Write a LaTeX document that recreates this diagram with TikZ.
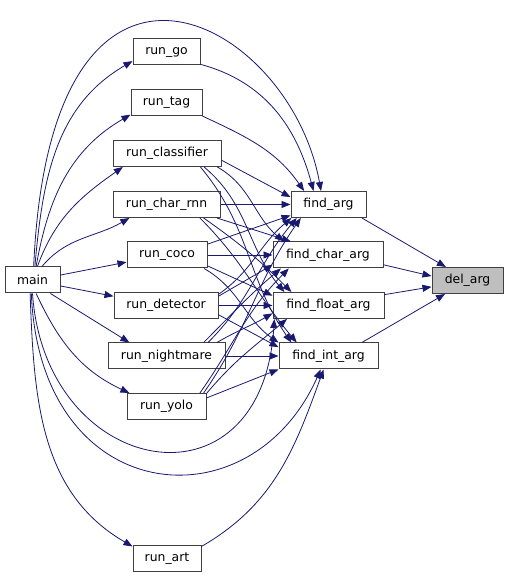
\documentclass[tikz,border=0pt]{standalone}
\usepackage{fontspec}
\setmainfont{DejaVu Sans}
\usetikzlibrary{arrows.meta}
\definecolor{edgeblue}{HTML}{191970}
\definecolor{boxgray}{HTML}{404040}
\definecolor{hilite}{HTML}{BFBFBF}
\tikzset{%
    func/.style={
      rectangle,
      draw=boxgray,
      fill=white,
      line width=1pt,
      minimum height=26pt,
      inner sep=0pt,
      font=\fontsize{12.4}{14}\selectfont
    },
    root func/.style={
      func,
      fill=hilite
    },
    call/.style={
      ->,
      draw=edgeblue,
      line width=0.8pt
    }
  }
\begin{document}
\begin{tikzpicture}[x=1pt, y=1pt, >={Triangle[length=9pt,width=7pt]}]
      \useasboundingbox (0,0) rectangle (508,578);

      \node [func, minimum width=55pt] (main) at (32.5,298) {main};

      \node [func, minimum width=67pt] (rungo) at (166.5,526) {run\_go};
      \node [func, minimum width=71pt] (runtag) at (166.5,475) {run\_tag};
      \node [func, minimum width=108pt] (runclassifier) at (167,424.5) {run\_classifier};
      \node [func, minimum width=107pt] (runcharrnn) at (166.5,373.5) {run\_char\_rnn};
      \node [func, minimum width=80pt] (runcoco) at (167,323) {run\_coco};
      \node [func, minimum width=104pt] (rundetector) at (166,272.5) {run\_detector};
      \node [func, minimum width=117pt] (runnightmare) at (166.5,222) {run\_nightmare};
      \node [func, minimum width=79pt] (runyolo) at (166.5,171.5) {run\_yolo};
      \node [func, minimum width=68pt] (runart) at (167,19) {run\_art};

      \node [func, minimum width=75pt] (findarg) at (328.5,373.5) {find\_arg};
      \node [func, minimum width=110pt] (findchararg) at (328,323) {find\_char\_arg};
      \node [func, minimum width=111pt] (findfloatarg) at (328.5,272.5) {find\_float\_arg};
      \node [func, minimum width=99pt] (findintarg) at (328.5,222) {find\_int\_arg};

      \node [root func, minimum width=71pt] (delarg) at (467.5,297.5) {del\_arg};

      % main
      \draw [call] (main.80) to[out=85,in=210] (rungo.195);
      \draw [call] (main.75) to[out=80,in=210] (runtag.198);
      \draw [call] (main.70) to[out=70,in=215] (runclassifier.197);
      \draw [call] (main.55) to[out=50,in=210] (runcharrnn.200);
      \draw [call] (main.10) -- (runcoco.190);
      \draw [call] (main.-12) -- (rundetector.170);
      \draw [call] (main.-37) -- (runnightmare.160);
      \draw [call] (main.-75) to[out=-65,in=155] (runyolo.160);
      \draw [call] (main.-100) to[out=-88,in=150] (runart.160);
      \draw [call] (main.85) .. controls (50,690) and (290,560) .. (findarg.119);
      \draw [call] (main.-90) .. controls (45,100) and (262,60) .. (findfloatarg.194);
      \draw [call] (main.-95) .. controls (40,70) and (250,50) .. (findintarg.240);

      % find_arg
      \draw [call] (rungo.-20) to[out=-15,in=105] (findarg.138);
      \draw [call] (runtag.-20) to[out=-25,in=125] (findarg.151);
      \draw [call] (runclassifier.-7) -- (findarg.169);
      \draw [call] (runcharrnn.east) -- (findarg.west);
      \draw [call] (runcoco.15) -- (findarg.196);
      \draw [call] (rundetector.12) to[out=35,in=220] (findarg.200);
      \draw [call] (runnightmare.18) to[out=45,in=230] (findarg.203);
      \draw [call] (runyolo.20) to[out=55,in=235] (findarg.206);

      % find_char_arg
      \draw [call] (runclassifier.-15) to[out=-30,in=140] (findchararg.163);
      \draw [call] (runcharrnn.-15) -- (findchararg.160);
      \draw [call] (runcoco.east) -- (findchararg.west);
      \draw [call] (rundetector.10) -- (findchararg.190);
      \draw [call] (runnightmare.20) to[out=45,in=220] (findchararg.196);
      \draw [call] (runyolo.22) to[out=55,in=225] (findchararg.199);

      % find_float_arg
      \draw [call] (runclassifier.-20) to[out=-40,in=130] (findfloatarg.163);
      \draw [call] (runcharrnn.-20) to[out=-35,in=135] (findfloatarg.160);
      \draw [call] (runcoco.-15) -- (findfloatarg.170);
      \draw [call] (rundetector.east) -- (findfloatarg.west);
      \draw [call] (runnightmare.15) to[out=30,in=210] (findfloatarg.188);
      \draw [call] (runyolo.18) to[out=50,in=220] (findfloatarg.198);

      % find_int_arg
      \draw [call] (runclassifier.-22) to[out=-50,in=125] (findintarg.160);
      \draw [call] (runcharrnn.-22) to[out=-45,in=130] (findintarg.157);
      \draw [call] (runcoco.-20) to[out=-30,in=145] (findintarg.165);
      \draw [call] (rundetector.-10) -- (findintarg.170);
      \draw [call] (runnightmare.east) -- (findintarg.west);
      \draw [call] (runyolo.12) -- (findintarg.195);
      \draw [call] (runart.20) to[out=30,in=250] (findintarg.250);

      % del_arg
      \draw [call] (findarg.-22) -- (delarg.148);
      \draw [call] (findchararg.-10) -- (delarg.173);
      \draw [call] (findfloatarg.11) -- (delarg.190);
      \draw [call] (findintarg.22) -- (delarg.211);

    \end{tikzpicture}
\end{document}
